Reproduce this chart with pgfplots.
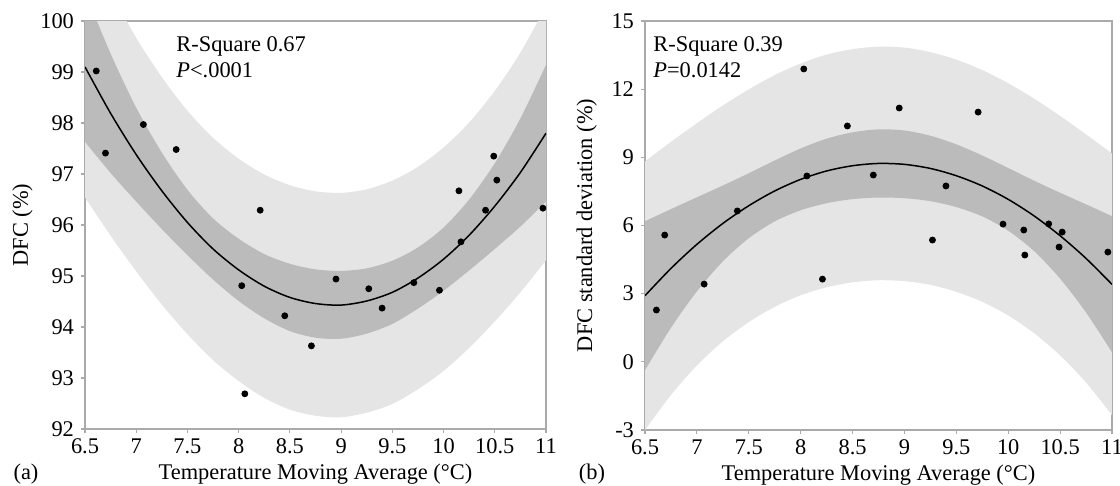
\documentclass[border=0pt]{standalone}
\usepackage{pgfplots}
\usepackage{pgfplotstable}
\pgfplotsset{compat=1.18}
\usepgfplotslibrary{fillbetween}
\usepackage{fontspec}
\setmainfont{Liberation Serif}
\definecolor{lightband}{RGB}{229,229,229}
\definecolor{darkband}{RGB}{187,187,187}
\definecolor{axisgray}{RGB}{170,170,170}

\pgfplotstableread{
x c clo chi plo phi
6.5 99.10 97.63 100.57 96.54 101.66
6.75 98.19 97.02 99.36 95.79 100.59
7.0 97.38 96.46 98.30 95.09 99.67
7.25 96.67 95.92 97.42 94.44 98.90
7.5 96.05 95.41 96.69 93.86 98.24
7.75 95.53 94.93 96.13 93.35 97.71
8.0 95.12 94.51 95.73 92.94 97.30
8.25 94.80 94.17 95.43 92.61 96.99
8.5 94.58 93.92 95.24 92.38 96.78
8.75 94.46 93.79 95.13 92.26 96.66
9.0 94.43 93.77 95.10 92.23 96.63
9.25 94.51 93.87 95.15 92.32 96.70
9.5 94.68 94.06 95.30 92.49 96.87
9.75 94.96 94.36 95.56 92.78 97.14
10.0 95.33 94.71 95.95 93.14 97.52
10.25 95.80 95.11 96.50 93.59 98.01
10.5 96.37 95.53 97.21 94.11 98.63
10.75 97.03 95.97 98.09 94.68 99.38
11.0 97.80 96.46 99.14 95.31 100.29
}\bandA

\pgfplotstableread{
x c clo chi plo phi
6.5 2.91 -0.37 6.19 -3.00 8.82
6.75 4.11 1.50 6.72 -1.46 9.68
7.0 5.17 3.10 7.24 -0.16 10.50
7.25 6.09 4.42 7.76 0.90 11.28
7.5 6.87 5.44 8.30 1.75 11.99
7.75 7.52 6.18 8.86 2.42 12.62
8.0 8.03 6.67 9.39 2.93 13.13
8.25 8.40 6.98 9.82 3.28 13.52
8.5 8.63 7.16 10.10 3.50 13.76
8.75 8.73 7.23 10.23 3.59 13.87
9.0 8.69 7.20 10.18 3.55 13.83
9.25 8.51 7.07 9.95 3.39 13.63
9.5 8.19 6.81 9.57 3.08 13.30
9.75 7.74 6.40 9.08 2.64 12.84
10.0 7.15 5.77 8.53 2.04 12.26
10.25 6.42 4.87 7.97 1.26 11.58
10.5 5.55 3.66 7.44 0.28 10.82
10.75 4.55 2.17 6.93 -0.91 10.01
11.0 3.41 0.42 6.41 -2.35 9.17
}\bandB

\pgfplotstableread{
x y
6.61 99.02
6.70 97.41
7.07 97.97
7.39 97.48
8.03 94.81
8.06 92.69
8.21 96.29
8.45 94.22
8.71 93.63
8.95 94.94
9.27 94.75
9.40 94.37
9.71 94.87
9.96 94.72
10.15 96.67
10.17 95.67
10.41 96.29
10.49 97.35
10.52 96.88
10.97 96.33
}\ptsA

\pgfplotstableread{
x y
6.61 2.28
6.69 5.58
7.07 3.42
7.39 6.64
8.03 12.89
8.06 8.18
8.21 3.64
8.45 10.38
8.70 8.22
8.95 11.17
9.27 5.36
9.40 7.74
9.71 10.99
9.95 6.06
10.15 5.80
10.16 4.70
10.39 6.07
10.49 5.05
10.52 5.71
10.96 4.83
}\ptsB

\pgfplotsset{
  myaxis/.style={
    scale only axis, anchor=south west,
    axis line style={axisgray, line width=0.6pt},
    tick style={axisgray, line width=0.6pt},
    tick align=outside, major tick length=2pt,
    xtick pos=bottom, ytick pos=left,
    xmin=6.5, xmax=11, xtick={6.5,7,7.5,8,8.5,9,9.5,10,10.5,11},
    xticklabels={6.5,7,7.5,8,8.5,9,9.5,10,10.5,11},
    /pgf/number format/assume math mode=true,
    ticklabel style={font=\fontsize{11.2}{13}\selectfont},
    xticklabel style={yshift=0.5pt},
    label style={font=\fontsize{11.2}{13}\selectfont},
    xlabel={Temperature Moving Average (°C)},
    xlabel style={at={(axis description cs:0.5,-0.11)}, anchor=center},
    clip=true,
  }
}

\begin{document}
\begin{tikzpicture}[font=\fontsize{11.2}{13}\selectfont]

\begin{axis}[myaxis, at={(42.5pt,28.5pt)}, width=230.5pt, height=204pt,
  ymin=92, ymax=100, ytick={92,93,...,100},
  ylabel={DFC (\%)},
  ylabel style={at={(axis description cs:-0.1356,0.5)}, anchor=center}]
  \addplot[name path=aph, draw=none, smooth] table[x=x,y=phi]{\bandA};
  \addplot[name path=apl, draw=none, smooth] table[x=x,y=plo]{\bandA};
  \addplot[lightband] fill between[of=aph and apl];
  \addplot[name path=ach, draw=none, smooth] table[x=x,y=chi]{\bandA};
  \addplot[name path=acl, draw=none, smooth] table[x=x,y=clo]{\bandA};
  \addplot[darkband] fill between[of=ach and acl];
  \addplot[black, line width=0.75pt, smooth] table[x=x,y=c]{\bandA};
  \addplot[only marks, mark=*, mark size=1.5pt, black] table[x=x,y=y]{\ptsA};
\end{axis}

\begin{axis}[myaxis, at={(322.5pt,28pt)}, width=233.5pt, height=204.5pt,
  ymin=-3, ymax=15, ytick={-3,0,3,6,9,12,15},
  yticklabels={-3,0,3,6,9,12,15},
  ylabel={DFC standard deviation (\%)},
  ylabel style={at={(axis description cs:-0.125,0.5)}, anchor=center}]
  \addplot[name path=bph, draw=none, smooth] table[x=x,y=phi]{\bandB};
  \addplot[name path=bpl, draw=none, smooth] table[x=x,y=plo]{\bandB};
  \addplot[lightband] fill between[of=bph and bpl];
  \addplot[name path=bch, draw=none, smooth] table[x=x,y=chi]{\bandB};
  \addplot[name path=bcl, draw=none, smooth] table[x=x,y=clo]{\bandB};
  \addplot[darkband] fill between[of=bch and bcl];
  \addplot[black, line width=0.75pt, smooth] table[x=x,y=c]{\bandB};
  \addplot[only marks, mark=*, mark size=1.5pt, black] table[x=x,y=y]{\ptsB};
\end{axis}

\node[anchor=base west, inner sep=0] at (88pt,217pt) {R-Square 0.67};
\node[anchor=base west, inner sep=0] at (88pt,204pt) {\textit{P}<.0001};
\node[anchor=base west, inner sep=0] at (326.5pt,217pt) {R-Square 0.39};
\node[anchor=base west, inner sep=0] at (326.5pt,204pt) {\textit{P}=0.0142};
\node[anchor=center] at (13pt,6pt) {(a)};
\node[anchor=center] at (296pt,6pt) {(b)};

\pgfresetboundingbox
\useasboundingbox (0,0) rectangle (560pt,243pt);
\end{tikzpicture}
\end{document}
